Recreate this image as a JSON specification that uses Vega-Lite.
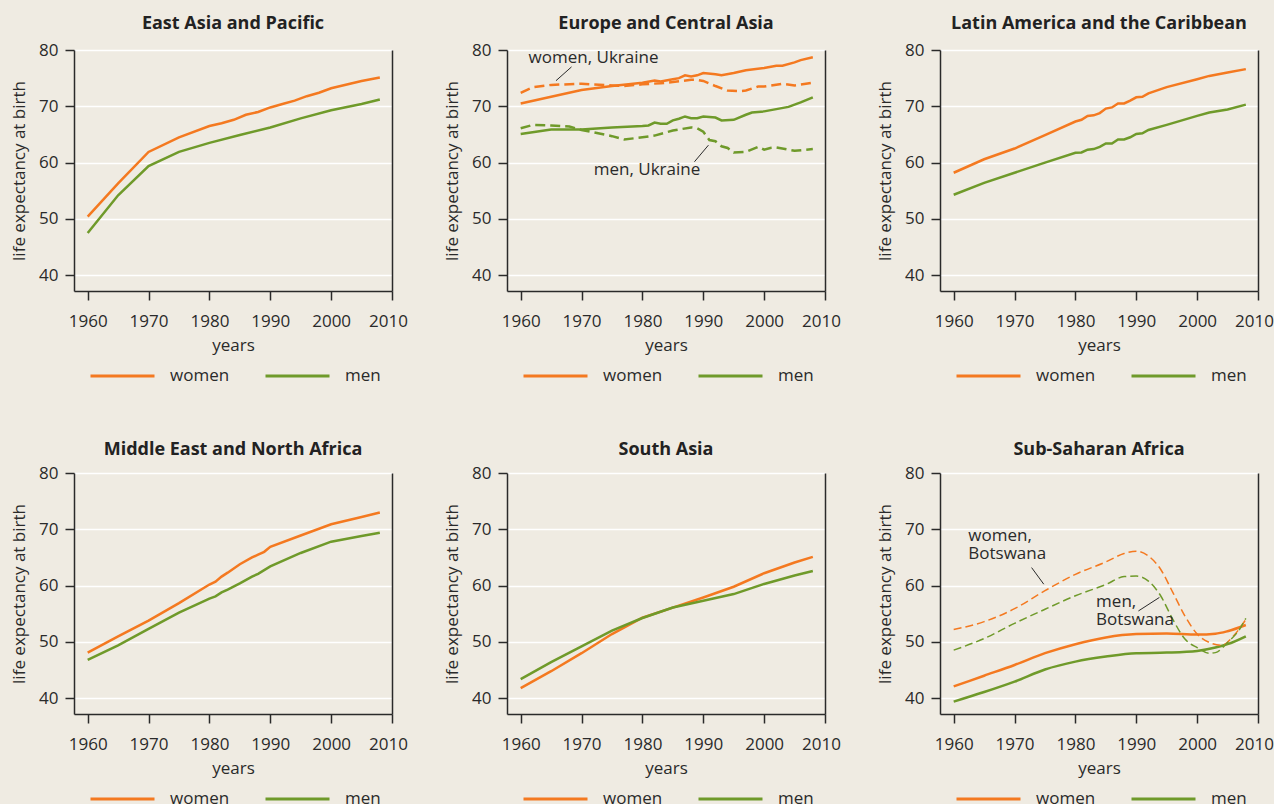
{
  "$schema": "https://vega.github.io/schema/vega-lite/v6.json",
  "background": "#efebe2",
  "padding": {"left": 10, "top": 15, "right": 0, "bottom": 0},
  "datasets": {
    "life": [
      {"r":"EAP","k":"region","s":"women","yr":1960,"v":50.4},{"r":"EAP","k":"region","s":"women","yr":1965,"v":56.3},{"r":"EAP","k":"region","s":"women","yr":1970,"v":61.9},{"r":"EAP","k":"region","s":"women","yr":1975,"v":64.5},{"r":"EAP","k":"region","s":"women","yr":1980,"v":66.5},{"r":"EAP","k":"region","s":"women","yr":1982,"v":67.0},{"r":"EAP","k":"region","s":"women","yr":1984,"v":67.6},{"r":"EAP","k":"region","s":"women","yr":1986,"v":68.5},{"r":"EAP","k":"region","s":"women","yr":1988,"v":69.0},{"r":"EAP","k":"region","s":"women","yr":1990,"v":69.8},{"r":"EAP","k":"region","s":"women","yr":1992,"v":70.4},{"r":"EAP","k":"region","s":"women","yr":1994,"v":71.0},{"r":"EAP","k":"region","s":"women","yr":1996,"v":71.8},{"r":"EAP","k":"region","s":"women","yr":1998,"v":72.4},{"r":"EAP","k":"region","s":"women","yr":2000,"v":73.2},{"r":"EAP","k":"region","s":"women","yr":2005,"v":74.5},{"r":"EAP","k":"region","s":"women","yr":2008,"v":75.1},
      {"r":"EAP","k":"region","s":"men","yr":1960,"v":47.5},{"r":"EAP","k":"region","s":"men","yr":1965,"v":54.2},{"r":"EAP","k":"region","s":"men","yr":1970,"v":59.4},{"r":"EAP","k":"region","s":"men","yr":1975,"v":61.9},{"r":"EAP","k":"region","s":"men","yr":1980,"v":63.5},{"r":"EAP","k":"region","s":"men","yr":1985,"v":64.9},{"r":"EAP","k":"region","s":"men","yr":1990,"v":66.25},{"r":"EAP","k":"region","s":"men","yr":1995,"v":67.85},{"r":"EAP","k":"region","s":"men","yr":2000,"v":69.3},{"r":"EAP","k":"region","s":"men","yr":2005,"v":70.4},{"r":"EAP","k":"region","s":"men","yr":2008,"v":71.2},

      {"r":"ECA","k":"region","s":"women","yr":1960,"v":70.5},{"r":"ECA","k":"region","s":"women","yr":1965,"v":71.7},{"r":"ECA","k":"region","s":"women","yr":1970,"v":72.9},{"r":"ECA","k":"region","s":"women","yr":1975,"v":73.6},{"r":"ECA","k":"region","s":"women","yr":1980,"v":74.2},{"r":"ECA","k":"region","s":"women","yr":1982,"v":74.6},{"r":"ECA","k":"region","s":"women","yr":1983,"v":74.4},{"r":"ECA","k":"region","s":"women","yr":1985,"v":74.8},{"r":"ECA","k":"region","s":"women","yr":1986,"v":75.0},{"r":"ECA","k":"region","s":"women","yr":1987,"v":75.5},{"r":"ECA","k":"region","s":"women","yr":1988,"v":75.3},{"r":"ECA","k":"region","s":"women","yr":1989,"v":75.5},{"r":"ECA","k":"region","s":"women","yr":1990,"v":75.9},{"r":"ECA","k":"region","s":"women","yr":1992,"v":75.7},{"r":"ECA","k":"region","s":"women","yr":1993,"v":75.5},{"r":"ECA","k":"region","s":"women","yr":1995,"v":75.9},{"r":"ECA","k":"region","s":"women","yr":1997,"v":76.4},{"r":"ECA","k":"region","s":"women","yr":2000,"v":76.8},{"r":"ECA","k":"region","s":"women","yr":2002,"v":77.2},{"r":"ECA","k":"region","s":"women","yr":2003,"v":77.2},{"r":"ECA","k":"region","s":"women","yr":2005,"v":77.8},{"r":"ECA","k":"region","s":"women","yr":2006,"v":78.2},{"r":"ECA","k":"region","s":"women","yr":2008,"v":78.7},
      {"r":"ECA","k":"region","s":"men","yr":1960,"v":65.1},{"r":"ECA","k":"region","s":"men","yr":1965,"v":65.9},{"r":"ECA","k":"region","s":"men","yr":1970,"v":65.9},{"r":"ECA","k":"region","s":"men","yr":1975,"v":66.25},{"r":"ECA","k":"region","s":"men","yr":1980,"v":66.5},{"r":"ECA","k":"region","s":"men","yr":1981,"v":66.6},{"r":"ECA","k":"region","s":"men","yr":1982,"v":67.1},{"r":"ECA","k":"region","s":"men","yr":1983,"v":66.9},{"r":"ECA","k":"region","s":"men","yr":1984,"v":66.9},{"r":"ECA","k":"region","s":"men","yr":1985,"v":67.5},{"r":"ECA","k":"region","s":"men","yr":1986,"v":67.8},{"r":"ECA","k":"region","s":"men","yr":1987,"v":68.2},{"r":"ECA","k":"region","s":"men","yr":1988,"v":67.9},{"r":"ECA","k":"region","s":"men","yr":1989,"v":67.9},{"r":"ECA","k":"region","s":"men","yr":1990,"v":68.2},{"r":"ECA","k":"region","s":"men","yr":1992,"v":68.0},{"r":"ECA","k":"region","s":"men","yr":1993,"v":67.5},{"r":"ECA","k":"region","s":"men","yr":1995,"v":67.6},{"r":"ECA","k":"region","s":"men","yr":1997,"v":68.5},{"r":"ECA","k":"region","s":"men","yr":1998,"v":68.9},{"r":"ECA","k":"region","s":"men","yr":2000,"v":69.1},{"r":"ECA","k":"region","s":"men","yr":2002,"v":69.5},{"r":"ECA","k":"region","s":"men","yr":2004,"v":69.9},{"r":"ECA","k":"region","s":"men","yr":2006,"v":70.7},{"r":"ECA","k":"region","s":"men","yr":2008,"v":71.6},
      {"r":"ECA","k":"country","s":"women","yr":1960,"v":72.4},{"r":"ECA","k":"country","s":"women","yr":1962,"v":73.4},{"r":"ECA","k":"country","s":"women","yr":1965,"v":73.8},{"r":"ECA","k":"country","s":"women","yr":1970,"v":74.0},{"r":"ECA","k":"country","s":"women","yr":1975,"v":73.7},{"r":"ECA","k":"country","s":"women","yr":1977,"v":73.6},{"r":"ECA","k":"country","s":"women","yr":1980,"v":73.9},{"r":"ECA","k":"country","s":"women","yr":1983,"v":74.1},{"r":"ECA","k":"country","s":"women","yr":1985,"v":74.3},{"r":"ECA","k":"country","s":"women","yr":1988,"v":74.7},{"r":"ECA","k":"country","s":"women","yr":1989,"v":74.7},{"r":"ECA","k":"country","s":"women","yr":1990,"v":74.5},{"r":"ECA","k":"country","s":"women","yr":1992,"v":73.6},{"r":"ECA","k":"country","s":"women","yr":1994,"v":72.8},{"r":"ECA","k":"country","s":"women","yr":1996,"v":72.7},{"r":"ECA","k":"country","s":"women","yr":1997,"v":72.8},{"r":"ECA","k":"country","s":"women","yr":1999,"v":73.5},{"r":"ECA","k":"country","s":"women","yr":2000,"v":73.5},{"r":"ECA","k":"country","s":"women","yr":2003,"v":74.0},{"r":"ECA","k":"country","s":"women","yr":2005,"v":73.7},{"r":"ECA","k":"country","s":"women","yr":2008,"v":74.2},
      {"r":"ECA","k":"country","s":"men","yr":1960,"v":66.1},{"r":"ECA","k":"country","s":"men","yr":1962,"v":66.7},{"r":"ECA","k":"country","s":"men","yr":1965,"v":66.6},{"r":"ECA","k":"country","s":"men","yr":1968,"v":66.4},{"r":"ECA","k":"country","s":"men","yr":1970,"v":65.8},{"r":"ECA","k":"country","s":"men","yr":1975,"v":64.7},{"r":"ECA","k":"country","s":"men","yr":1977,"v":64.1},{"r":"ECA","k":"country","s":"men","yr":1980,"v":64.5},{"r":"ECA","k":"country","s":"men","yr":1982,"v":64.8},{"r":"ECA","k":"country","s":"men","yr":1985,"v":65.7},{"r":"ECA","k":"country","s":"men","yr":1988,"v":66.25},{"r":"ECA","k":"country","s":"men","yr":1989,"v":66.1},{"r":"ECA","k":"country","s":"men","yr":1990,"v":65.5},{"r":"ECA","k":"country","s":"men","yr":1991,"v":64.0},{"r":"ECA","k":"country","s":"men","yr":1992,"v":63.8},{"r":"ECA","k":"country","s":"men","yr":1993,"v":62.9},{"r":"ECA","k":"country","s":"men","yr":1994,"v":62.6},{"r":"ECA","k":"country","s":"men","yr":1995,"v":61.8},{"r":"ECA","k":"country","s":"men","yr":1997,"v":61.9},{"r":"ECA","k":"country","s":"men","yr":1999,"v":62.8},{"r":"ECA","k":"country","s":"men","yr":2000,"v":62.3},{"r":"ECA","k":"country","s":"men","yr":2001,"v":62.6},{"r":"ECA","k":"country","s":"men","yr":2002,"v":62.7},{"r":"ECA","k":"country","s":"men","yr":2005,"v":62.1},{"r":"ECA","k":"country","s":"men","yr":2008,"v":62.4},

      {"r":"LAC","k":"region","s":"women","yr":1960,"v":58.2},{"r":"LAC","k":"region","s":"women","yr":1965,"v":60.6},{"r":"LAC","k":"region","s":"women","yr":1970,"v":62.5},{"r":"LAC","k":"region","s":"women","yr":1975,"v":64.9},{"r":"LAC","k":"region","s":"women","yr":1980,"v":67.3},{"r":"LAC","k":"region","s":"women","yr":1981,"v":67.6},{"r":"LAC","k":"region","s":"women","yr":1982,"v":68.3},{"r":"LAC","k":"region","s":"women","yr":1983,"v":68.4},{"r":"LAC","k":"region","s":"women","yr":1984,"v":68.8},{"r":"LAC","k":"region","s":"women","yr":1985,"v":69.6},{"r":"LAC","k":"region","s":"women","yr":1986,"v":69.8},{"r":"LAC","k":"region","s":"women","yr":1987,"v":70.5},{"r":"LAC","k":"region","s":"women","yr":1988,"v":70.5},{"r":"LAC","k":"region","s":"women","yr":1989,"v":71.0},{"r":"LAC","k":"region","s":"women","yr":1990,"v":71.6},{"r":"LAC","k":"region","s":"women","yr":1991,"v":71.7},{"r":"LAC","k":"region","s":"women","yr":1992,"v":72.3},{"r":"LAC","k":"region","s":"women","yr":1995,"v":73.4},{"r":"LAC","k":"region","s":"women","yr":2000,"v":74.8},{"r":"LAC","k":"region","s":"women","yr":2002,"v":75.4},{"r":"LAC","k":"region","s":"women","yr":2005,"v":76.0},{"r":"LAC","k":"region","s":"women","yr":2008,"v":76.6},
      {"r":"LAC","k":"region","s":"men","yr":1960,"v":54.3},{"r":"LAC","k":"region","s":"men","yr":1965,"v":56.4},{"r":"LAC","k":"region","s":"men","yr":1970,"v":58.2},{"r":"LAC","k":"region","s":"men","yr":1975,"v":60.0},{"r":"LAC","k":"region","s":"men","yr":1980,"v":61.75},{"r":"LAC","k":"region","s":"men","yr":1981,"v":61.8},{"r":"LAC","k":"region","s":"men","yr":1982,"v":62.3},{"r":"LAC","k":"region","s":"men","yr":1983,"v":62.4},{"r":"LAC","k":"region","s":"men","yr":1984,"v":62.8},{"r":"LAC","k":"region","s":"men","yr":1985,"v":63.4},{"r":"LAC","k":"region","s":"men","yr":1986,"v":63.4},{"r":"LAC","k":"region","s":"men","yr":1987,"v":64.1},{"r":"LAC","k":"region","s":"men","yr":1988,"v":64.1},{"r":"LAC","k":"region","s":"men","yr":1989,"v":64.5},{"r":"LAC","k":"region","s":"men","yr":1990,"v":65.1},{"r":"LAC","k":"region","s":"men","yr":1991,"v":65.2},{"r":"LAC","k":"region","s":"men","yr":1992,"v":65.8},{"r":"LAC","k":"region","s":"men","yr":1995,"v":66.7},{"r":"LAC","k":"region","s":"men","yr":2000,"v":68.3},{"r":"LAC","k":"region","s":"men","yr":2002,"v":68.9},{"r":"LAC","k":"region","s":"men","yr":2005,"v":69.45},{"r":"LAC","k":"region","s":"men","yr":2008,"v":70.3},

      {"r":"MENA","k":"region","s":"women","yr":1960,"v":48.1},{"r":"MENA","k":"region","s":"women","yr":1965,"v":51.0},{"r":"MENA","k":"region","s":"women","yr":1970,"v":53.8},{"r":"MENA","k":"region","s":"women","yr":1975,"v":56.9},{"r":"MENA","k":"region","s":"women","yr":1980,"v":60.2},{"r":"MENA","k":"region","s":"women","yr":1981,"v":60.7},{"r":"MENA","k":"region","s":"women","yr":1982,"v":61.6},{"r":"MENA","k":"region","s":"women","yr":1983,"v":62.3},{"r":"MENA","k":"region","s":"women","yr":1985,"v":63.8},{"r":"MENA","k":"region","s":"women","yr":1987,"v":65.0},{"r":"MENA","k":"region","s":"women","yr":1988,"v":65.5},{"r":"MENA","k":"region","s":"women","yr":1989,"v":66.0},{"r":"MENA","k":"region","s":"women","yr":1990,"v":66.9},{"r":"MENA","k":"region","s":"women","yr":1995,"v":68.9},{"r":"MENA","k":"region","s":"women","yr":2000,"v":70.9},{"r":"MENA","k":"region","s":"women","yr":2005,"v":72.2},{"r":"MENA","k":"region","s":"women","yr":2008,"v":73.0},
      {"r":"MENA","k":"region","s":"men","yr":1960,"v":46.8},{"r":"MENA","k":"region","s":"men","yr":1965,"v":49.4},{"r":"MENA","k":"region","s":"men","yr":1970,"v":52.3},{"r":"MENA","k":"region","s":"men","yr":1975,"v":55.2},{"r":"MENA","k":"region","s":"men","yr":1980,"v":57.7},{"r":"MENA","k":"region","s":"men","yr":1981,"v":58.1},{"r":"MENA","k":"region","s":"men","yr":1982,"v":58.8},{"r":"MENA","k":"region","s":"men","yr":1983,"v":59.3},{"r":"MENA","k":"region","s":"men","yr":1985,"v":60.4},{"r":"MENA","k":"region","s":"men","yr":1987,"v":61.6},{"r":"MENA","k":"region","s":"men","yr":1988,"v":62.1},{"r":"MENA","k":"region","s":"men","yr":1990,"v":63.4},{"r":"MENA","k":"region","s":"men","yr":1995,"v":65.8},{"r":"MENA","k":"region","s":"men","yr":2000,"v":67.8},{"r":"MENA","k":"region","s":"men","yr":2005,"v":68.8},{"r":"MENA","k":"region","s":"men","yr":2008,"v":69.4},

      {"r":"SA","k":"region","s":"women","yr":1960,"v":41.8},{"r":"SA","k":"region","s":"women","yr":1965,"v":44.8},{"r":"SA","k":"region","s":"women","yr":1970,"v":48.0},{"r":"SA","k":"region","s":"women","yr":1975,"v":51.4},{"r":"SA","k":"region","s":"women","yr":1980,"v":54.3},{"r":"SA","k":"region","s":"women","yr":1985,"v":56.1},{"r":"SA","k":"region","s":"women","yr":1990,"v":57.9},{"r":"SA","k":"region","s":"women","yr":1995,"v":59.8},{"r":"SA","k":"region","s":"women","yr":2000,"v":62.2},{"r":"SA","k":"region","s":"women","yr":2005,"v":64.1},{"r":"SA","k":"region","s":"women","yr":2008,"v":65.1},
      {"r":"SA","k":"region","s":"men","yr":1960,"v":43.4},{"r":"SA","k":"region","s":"men","yr":1965,"v":46.4},{"r":"SA","k":"region","s":"men","yr":1970,"v":49.2},{"r":"SA","k":"region","s":"men","yr":1975,"v":52.0},{"r":"SA","k":"region","s":"men","yr":1980,"v":54.25},{"r":"SA","k":"region","s":"men","yr":1985,"v":56.1},{"r":"SA","k":"region","s":"men","yr":1990,"v":57.3},{"r":"SA","k":"region","s":"men","yr":1995,"v":58.5},{"r":"SA","k":"region","s":"men","yr":2000,"v":60.3},{"r":"SA","k":"region","s":"men","yr":2005,"v":61.8},{"r":"SA","k":"region","s":"men","yr":2008,"v":62.6},

      {"r":"SSA","k":"region","s":"women","yr":1960,"v":42.1},{"r":"SSA","k":"region","s":"women","yr":1965,"v":44.0},{"r":"SSA","k":"region","s":"women","yr":1970,"v":45.9},{"r":"SSA","k":"region","s":"women","yr":1975,"v":48.0},{"r":"SSA","k":"region","s":"women","yr":1980,"v":49.6},{"r":"SSA","k":"region","s":"women","yr":1985,"v":50.8},{"r":"SSA","k":"region","s":"women","yr":1990,"v":51.4},{"r":"SSA","k":"region","s":"women","yr":1995,"v":51.5},{"r":"SSA","k":"region","s":"women","yr":2000,"v":51.3},{"r":"SSA","k":"region","s":"women","yr":2003,"v":51.45},{"r":"SSA","k":"region","s":"women","yr":2005,"v":51.9},{"r":"SSA","k":"region","s":"women","yr":2008,"v":53.0},
      {"r":"SSA","k":"region","s":"men","yr":1960,"v":39.4},{"r":"SSA","k":"region","s":"men","yr":1965,"v":41.1},{"r":"SSA","k":"region","s":"men","yr":1970,"v":42.95},{"r":"SSA","k":"region","s":"men","yr":1975,"v":45.1},{"r":"SSA","k":"region","s":"men","yr":1980,"v":46.5},{"r":"SSA","k":"region","s":"men","yr":1985,"v":47.4},{"r":"SSA","k":"region","s":"men","yr":1990,"v":48.0},{"r":"SSA","k":"region","s":"men","yr":1995,"v":48.1},{"r":"SSA","k":"region","s":"men","yr":2000,"v":48.4},{"r":"SSA","k":"region","s":"men","yr":2003,"v":49.0},{"r":"SSA","k":"region","s":"men","yr":2005,"v":49.6},{"r":"SSA","k":"region","s":"men","yr":2008,"v":51.0},
      {"r":"SSA","k":"country","s":"women","yr":1960,"v":52.2},{"r":"SSA","k":"country","s":"women","yr":1965,"v":53.6},{"r":"SSA","k":"country","s":"women","yr":1970,"v":55.9},{"r":"SSA","k":"country","s":"women","yr":1975,"v":59.1},{"r":"SSA","k":"country","s":"women","yr":1980,"v":62.0},{"r":"SSA","k":"country","s":"women","yr":1985,"v":64.2},{"r":"SSA","k":"country","s":"women","yr":1988,"v":65.7},{"r":"SSA","k":"country","s":"women","yr":1990,"v":66.1},{"r":"SSA","k":"country","s":"women","yr":1992,"v":65.25},{"r":"SSA","k":"country","s":"women","yr":1994,"v":62.9},{"r":"SSA","k":"country","s":"women","yr":1996,"v":58.8},{"r":"SSA","k":"country","s":"women","yr":1998,"v":54.6},{"r":"SSA","k":"country","s":"women","yr":2000,"v":51.4},{"r":"SSA","k":"country","s":"women","yr":2002,"v":49.9},{"r":"SSA","k":"country","s":"women","yr":2004,"v":49.4},{"r":"SSA","k":"country","s":"women","yr":2006,"v":51.1},{"r":"SSA","k":"country","s":"women","yr":2008,"v":54.0},
      {"r":"SSA","k":"country","s":"men","yr":1960,"v":48.55},{"r":"SSA","k":"country","s":"men","yr":1965,"v":50.6},{"r":"SSA","k":"country","s":"men","yr":1970,"v":53.3},{"r":"SSA","k":"country","s":"men","yr":1975,"v":55.8},{"r":"SSA","k":"country","s":"men","yr":1980,"v":58.2},{"r":"SSA","k":"country","s":"men","yr":1985,"v":60.2},{"r":"SSA","k":"country","s":"men","yr":1988,"v":61.6},{"r":"SSA","k":"country","s":"men","yr":1990,"v":61.7},{"r":"SSA","k":"country","s":"men","yr":1992,"v":60.8},{"r":"SSA","k":"country","s":"men","yr":1994,"v":58.2},{"r":"SSA","k":"country","s":"men","yr":1996,"v":54.0},{"r":"SSA","k":"country","s":"men","yr":1998,"v":50.5},{"r":"SSA","k":"country","s":"men","yr":2000,"v":49.0},{"r":"SSA","k":"country","s":"men","yr":2002,"v":48.0},{"r":"SSA","k":"country","s":"men","yr":2003,"v":48.1},{"r":"SSA","k":"country","s":"men","yr":2005,"v":49.9},{"r":"SSA","k":"country","s":"men","yr":2007,"v":52.3},{"r":"SSA","k":"country","s":"men","yr":2008,"v":54.2}
    ],
    "notes": [
      {"r":"ECA","label":"women, Ukraine","yr":1961.3,"v":78.55},
      {"r":"ECA","label":"men, Ukraine","yr":1972.0,"v":58.65},
      {"r":"SSA","label":"women,\nBotswana","yr":1962.4,"v":68.75},
      {"r":"SSA","label":"men,\nBotswana","yr":1983.4,"v":57.1}
    ],
    "leaders": [
      {"r":"ECA","yr":1965.8,"v":74.55,"yr2":1968.35,"v2":77.0},
      {"r":"ECA","yr":1988.55,"v":60.15,"yr2":1990.85,"v2":63.1},
      {"r":"SSA","yr":1972.8,"v":63.2,"yr2":1974.8,"v2":60.25},
      {"r":"SSA","yr":1990.35,"v":55.5,"yr2":1993.8,"v2":57.9}
    ]
  },
  "columns": 3,
  "spacing": {"row": 57, "column": 35},
  "resolve": {"scale": {"color": "independent"}, "legend": {"color": "independent"}},
  "concat": [
    {
      "title": "East Asia and Pacific",
      "width": 318, "height": 241,
      "data": {"name": "life"},
      "transform": [{"filter": "datum.r === 'EAP'"}],
      "layer": [
        {"transform": [{"filter": "datum.s === 'women'"}], "mark": {"type": "line", "strokeWidth": 2.5},
         "encoding": {"x": {"field": "yr", "type": "quantitative", "title": "years", "scale": {"domain": [1957.75, 2010], "nice": false, "zero": false}, "axis": {"values": [1960, 1970, 1980, 1990, 2000, 2010], "format": "d", "labelOffset": {"condition": {"test": "datum.value === 2010", "value": -4}, "value": 0}}},
                      "y": {"field": "v", "type": "quantitative", "title": "life expectancy at birth", "scale": {"domain": [37.2, 80], "nice": false, "zero": false}, "axis": {"values": [40, 50, 60, 70, 80]}},
                      "color": {"field": "s", "type": "nominal", "scale": {"domain": ["women", "men"], "range": ["#f47920", "#6f9a2a"]}, "legend": {"title": null}}}},
        {"transform": [{"filter": "datum.s === 'men'"}], "mark": {"type": "line", "strokeWidth": 2.5},
         "encoding": {"x": {"field": "yr", "type": "quantitative", "title": "years", "scale": {"domain": [1957.75, 2010], "nice": false, "zero": false}},
                      "y": {"field": "v", "type": "quantitative", "scale": {"domain": [37.2, 80], "nice": false, "zero": false}, "axis": {"orient": "right", "labels": false, "ticks": false, "grid": false, "title": null, "domain": true}},
                      "color": {"field": "s", "type": "nominal", "scale": {"domain": ["women", "men"], "range": ["#f47920", "#6f9a2a"]}, "legend": {"title": null}}}}
      ],
      "resolve": {"axis": {"y": "independent"}}
    },
    {
      "title": "Europe and Central Asia",
      "width": 318, "height": 241,
      "layer": [
        {"data": {"name": "life"}, "transform": [{"filter": "datum.r === 'ECA' && datum.k === 'region' && datum.s === 'women'"}], "mark": {"type": "line", "strokeWidth": 2.5},
         "encoding": {"x": {"field": "yr", "type": "quantitative", "title": "years", "scale": {"domain": [1957.75, 2010], "nice": false, "zero": false}, "axis": {"values": [1960, 1970, 1980, 1990, 2000, 2010], "format": "d", "labelOffset": {"condition": {"test": "datum.value === 2010", "value": -4}, "value": 0}}},
                      "y": {"field": "v", "type": "quantitative", "title": "life expectancy at birth", "scale": {"domain": [37.2, 80], "nice": false, "zero": false}, "axis": {"values": [40, 50, 60, 70, 80]}},
                      "color": {"field": "s", "type": "nominal", "scale": {"domain": ["women", "men"], "range": ["#f47920", "#6f9a2a"]}, "legend": {"title": null}}}},
        {"data": {"name": "life"}, "transform": [{"filter": "datum.r === 'ECA' && datum.k === 'region' && datum.s === 'men'"}], "mark": {"type": "line", "strokeWidth": 2.5},
         "encoding": {"x": {"field": "yr", "type": "quantitative", "title": "years", "scale": {"domain": [1957.75, 2010], "nice": false, "zero": false}},
                      "y": {"field": "v", "type": "quantitative", "scale": {"domain": [37.2, 80], "nice": false, "zero": false}, "axis": {"orient": "right", "labels": false, "ticks": false, "grid": false, "title": null, "domain": true}},
                      "color": {"field": "s", "type": "nominal", "scale": {"domain": ["women", "men"], "range": ["#f47920", "#6f9a2a"]}, "legend": {"title": null}}}},
        {"data": {"name": "life"}, "transform": [{"filter": "datum.r === 'ECA' && datum.k === 'country'"}], "mark": {"type": "line", "strokeWidth": 2.5, "strokeDash": [10, 5]},
         "encoding": {"x": {"field": "yr", "type": "quantitative", "title": "years", "scale": {"domain": [1957.75, 2010], "nice": false, "zero": false}},
                      "y": {"field": "v", "type": "quantitative", "scale": {"domain": [37.2, 80], "nice": false, "zero": false}, "axis": null},
                      "color": {"field": "s", "type": "nominal", "scale": {"domain": ["women", "men"], "range": ["#f47920", "#6f9a2a"]}, "legend": {"title": null}}}},
        {"data": {"name": "leaders"}, "transform": [{"filter": "datum.r === 'ECA'"}], "mark": {"type": "rule", "color": "#2a2a2a", "strokeWidth": 1},
         "encoding": {"x": {"field": "yr", "type": "quantitative", "title": "years", "scale": {"domain": [1957.75, 2010], "nice": false, "zero": false}},
                      "y": {"field": "v", "type": "quantitative", "scale": {"domain": [37.2, 80], "nice": false, "zero": false}, "axis": null},
                      "x2": {"field": "yr2"}, "y2": {"field": "v2"}}},
        {"data": {"name": "notes"}, "transform": [{"filter": "datum.r === 'ECA'"}], "mark": {"type": "text", "align": "left", "baseline": "middle", "font": "Open Sans", "fontSize": 17, "color": "#2a2a2a"},
         "encoding": {"x": {"field": "yr", "type": "quantitative", "title": "years", "scale": {"domain": [1957.75, 2010], "nice": false, "zero": false}},
                      "y": {"field": "v", "type": "quantitative", "scale": {"domain": [37.2, 80], "nice": false, "zero": false}, "axis": null},
                      "text": {"field": "label"}}}
      ],
      "resolve": {"axis": {"y": "independent"}}
    },
    {
      "title": "Latin America and the Caribbean",
      "width": 318, "height": 241,
      "data": {"name": "life"},
      "transform": [{"filter": "datum.r === 'LAC'"}],
      "layer": [
        {"transform": [{"filter": "datum.s === 'women'"}], "mark": {"type": "line", "strokeWidth": 2.5},
         "encoding": {"x": {"field": "yr", "type": "quantitative", "title": "years", "scale": {"domain": [1957.75, 2010], "nice": false, "zero": false}, "axis": {"values": [1960, 1970, 1980, 1990, 2000, 2010], "format": "d", "labelOffset": {"condition": {"test": "datum.value === 2010", "value": -4}, "value": 0}}},
                      "y": {"field": "v", "type": "quantitative", "title": "life expectancy at birth", "scale": {"domain": [37.2, 80], "nice": false, "zero": false}, "axis": {"values": [40, 50, 60, 70, 80]}},
                      "color": {"field": "s", "type": "nominal", "scale": {"domain": ["women", "men"], "range": ["#f47920", "#6f9a2a"]}, "legend": {"title": null}}}},
        {"transform": [{"filter": "datum.s === 'men'"}], "mark": {"type": "line", "strokeWidth": 2.5},
         "encoding": {"x": {"field": "yr", "type": "quantitative", "title": "years", "scale": {"domain": [1957.75, 2010], "nice": false, "zero": false}},
                      "y": {"field": "v", "type": "quantitative", "scale": {"domain": [37.2, 80], "nice": false, "zero": false}, "axis": {"orient": "right", "labels": false, "ticks": false, "grid": false, "title": null, "domain": true}},
                      "color": {"field": "s", "type": "nominal", "scale": {"domain": ["women", "men"], "range": ["#f47920", "#6f9a2a"]}, "legend": {"title": null}}}}
      ],
      "resolve": {"axis": {"y": "independent"}}
    },
    {
      "title": {"text": "Middle East and North Africa", "offset": 5},
      "width": 318, "height": 241,
      "data": {"name": "life"},
      "transform": [{"filter": "datum.r === 'MENA'"}],
      "layer": [
        {"transform": [{"filter": "datum.s === 'women'"}], "mark": {"type": "line", "strokeWidth": 2.5},
         "encoding": {"x": {"field": "yr", "type": "quantitative", "title": "years", "scale": {"domain": [1957.75, 2010], "nice": false, "zero": false}, "axis": {"values": [1960, 1970, 1980, 1990, 2000, 2010], "format": "d", "labelOffset": {"condition": {"test": "datum.value === 2010", "value": -4}, "value": 0}}},
                      "y": {"field": "v", "type": "quantitative", "title": "life expectancy at birth", "scale": {"domain": [37.2, 80], "nice": false, "zero": false}, "axis": {"values": [40, 50, 60, 70, 80]}},
                      "color": {"field": "s", "type": "nominal", "scale": {"domain": ["women", "men"], "range": ["#f47920", "#6f9a2a"]}, "legend": {"title": null}}}},
        {"transform": [{"filter": "datum.s === 'men'"}], "mark": {"type": "line", "strokeWidth": 2.5},
         "encoding": {"x": {"field": "yr", "type": "quantitative", "title": "years", "scale": {"domain": [1957.75, 2010], "nice": false, "zero": false}},
                      "y": {"field": "v", "type": "quantitative", "scale": {"domain": [37.2, 80], "nice": false, "zero": false}, "axis": {"orient": "right", "labels": false, "ticks": false, "grid": false, "title": null, "domain": true}},
                      "color": {"field": "s", "type": "nominal", "scale": {"domain": ["women", "men"], "range": ["#f47920", "#6f9a2a"]}, "legend": {"title": null}}}}
      ],
      "resolve": {"axis": {"y": "independent"}}
    },
    {
      "title": {"text": "South Asia", "offset": 5},
      "width": 318, "height": 241,
      "data": {"name": "life"},
      "transform": [{"filter": "datum.r === 'SA'"}],
      "layer": [
        {"transform": [{"filter": "datum.s === 'women'"}], "mark": {"type": "line", "strokeWidth": 2.5},
         "encoding": {"x": {"field": "yr", "type": "quantitative", "title": "years", "scale": {"domain": [1957.75, 2010], "nice": false, "zero": false}, "axis": {"values": [1960, 1970, 1980, 1990, 2000, 2010], "format": "d", "labelOffset": {"condition": {"test": "datum.value === 2010", "value": -4}, "value": 0}}},
                      "y": {"field": "v", "type": "quantitative", "title": "life expectancy at birth", "scale": {"domain": [37.2, 80], "nice": false, "zero": false}, "axis": {"values": [40, 50, 60, 70, 80]}},
                      "color": {"field": "s", "type": "nominal", "scale": {"domain": ["women", "men"], "range": ["#f47920", "#6f9a2a"]}, "legend": {"title": null}}}},
        {"transform": [{"filter": "datum.s === 'men'"}], "mark": {"type": "line", "strokeWidth": 2.5},
         "encoding": {"x": {"field": "yr", "type": "quantitative", "title": "years", "scale": {"domain": [1957.75, 2010], "nice": false, "zero": false}},
                      "y": {"field": "v", "type": "quantitative", "scale": {"domain": [37.2, 80], "nice": false, "zero": false}, "axis": {"orient": "right", "labels": false, "ticks": false, "grid": false, "title": null, "domain": true}},
                      "color": {"field": "s", "type": "nominal", "scale": {"domain": ["women", "men"], "range": ["#f47920", "#6f9a2a"]}, "legend": {"title": null}}}}
      ],
      "resolve": {"axis": {"y": "independent"}}
    },
    {
      "title": {"text": "Sub-Saharan Africa", "offset": 5},
      "width": 318, "height": 241,
      "layer": [
        {"data": {"name": "life"}, "transform": [{"filter": "datum.r === 'SSA' && datum.k === 'region' && datum.s === 'women'"}], "mark": {"type": "line", "strokeWidth": 2.5, "interpolate": "monotone"},
         "encoding": {"x": {"field": "yr", "type": "quantitative", "title": "years", "scale": {"domain": [1957.75, 2010], "nice": false, "zero": false}, "axis": {"values": [1960, 1970, 1980, 1990, 2000, 2010], "format": "d", "labelOffset": {"condition": {"test": "datum.value === 2010", "value": -4}, "value": 0}}},
                      "y": {"field": "v", "type": "quantitative", "title": "life expectancy at birth", "scale": {"domain": [37.2, 80], "nice": false, "zero": false}, "axis": {"values": [40, 50, 60, 70, 80]}},
                      "color": {"field": "s", "type": "nominal", "scale": {"domain": ["women", "men"], "range": ["#f47920", "#6f9a2a"]}, "legend": {"title": null}}}},
        {"data": {"name": "life"}, "transform": [{"filter": "datum.r === 'SSA' && datum.k === 'region' && datum.s === 'men'"}], "mark": {"type": "line", "strokeWidth": 2.5, "interpolate": "monotone"},
         "encoding": {"x": {"field": "yr", "type": "quantitative", "title": "years", "scale": {"domain": [1957.75, 2010], "nice": false, "zero": false}},
                      "y": {"field": "v", "type": "quantitative", "scale": {"domain": [37.2, 80], "nice": false, "zero": false}, "axis": {"orient": "right", "labels": false, "ticks": false, "grid": false, "title": null, "domain": true}},
                      "color": {"field": "s", "type": "nominal", "scale": {"domain": ["women", "men"], "range": ["#f47920", "#6f9a2a"]}, "legend": {"title": null}}}},
        {"data": {"name": "life"}, "transform": [{"filter": "datum.r === 'SSA' && datum.k === 'country'"}], "mark": {"type": "line", "strokeWidth": 1.5, "strokeDash": [8, 4], "interpolate": "monotone"},
         "encoding": {"x": {"field": "yr", "type": "quantitative", "title": "years", "scale": {"domain": [1957.75, 2010], "nice": false, "zero": false}},
                      "y": {"field": "v", "type": "quantitative", "scale": {"domain": [37.2, 80], "nice": false, "zero": false}, "axis": null},
                      "color": {"field": "s", "type": "nominal", "scale": {"domain": ["women", "men"], "range": ["#f47920", "#6f9a2a"]}, "legend": {"title": null}}}},
        {"data": {"name": "leaders"}, "transform": [{"filter": "datum.r === 'SSA'"}], "mark": {"type": "rule", "color": "#2a2a2a", "strokeWidth": 1},
         "encoding": {"x": {"field": "yr", "type": "quantitative", "title": "years", "scale": {"domain": [1957.75, 2010], "nice": false, "zero": false}},
                      "y": {"field": "v", "type": "quantitative", "scale": {"domain": [37.2, 80], "nice": false, "zero": false}, "axis": null},
                      "x2": {"field": "yr2"}, "y2": {"field": "v2"}}},
        {"data": {"name": "notes"}, "transform": [{"filter": "datum.r === 'SSA'"}], "mark": {"type": "text", "align": "left", "baseline": "middle", "font": "Open Sans", "fontSize": 17, "color": "#2a2a2a", "lineBreak": "\n", "lineHeight": 18},
         "encoding": {"x": {"field": "yr", "type": "quantitative", "title": "years", "scale": {"domain": [1957.75, 2010], "nice": false, "zero": false}},
                      "y": {"field": "v", "type": "quantitative", "scale": {"domain": [37.2, 80], "nice": false, "zero": false}, "axis": null},
                      "text": {"field": "label"}}}
      ],
      "resolve": {"axis": {"y": "independent"}}
    }
  ],
  "config": {
    "font": "Open Sans",
    "view": {"stroke": null},
    "title": {"font": "Open Sans", "fontSize": 18, "fontWeight": "bold", "color": "#222222", "offset": 8, "anchor": "middle"},
    "axis": {"labelFont": "Open Sans", "labelFontSize": 17, "labelColor": "#2a2a2a", "titleFont": "Open Sans", "titleFontSize": 17, "titleFontWeight": "normal", "titleColor": "#2a2a2a", "domainColor": "#2a2a2a", "domainWidth": 1.5, "tickColor": "#2a2a2a", "tickWidth": 1.5, "tickSize": 9, "gridColor": "#ffffff", "gridWidth": 1.5, "gridOpacity": 1},
    "axisX": {"grid": false, "labelFlush": false, "labelPadding": 13, "titlePadding": 8},
    "axisY": {"grid": true, "labelPadding": 7, "titlePadding": 10},
    "legend": {"orient": "none", "legendX": 15, "legendY": 318, "direction": "horizontal", "symbolType": "stroke", "symbolSize": 4096, "symbolStrokeWidth": 3, "labelOffset": 14, "columnPadding": 34, "clipHeight": 16, "labelFont": "Open Sans", "labelFontSize": 17, "labelColor": "#2a2a2a", "padding": 0}
  }
}
